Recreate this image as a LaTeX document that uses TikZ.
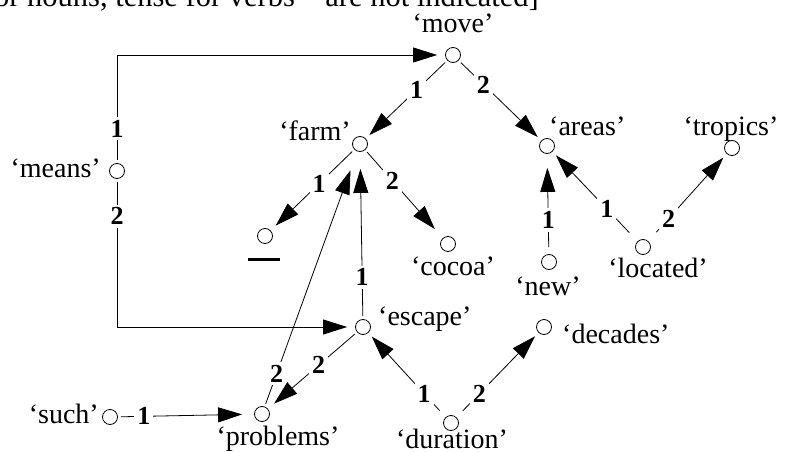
\documentclass[tikz,border=0pt]{standalone}
\usepackage{fontspec}
\setmainfont{Liberation Serif}
\usetikzlibrary{arrows.meta}

\tikzset{
  vertex/.style={circle, draw, inner sep=0pt, minimum size=15pt, line width=0.8pt},
  word/.style={inner sep=0pt, font=\fontsize{28}{30}\selectfont},
  num/.style={fill=white, inner sep=3pt, font=\fontsize{26}{28}\selectfont\bfseries},
  arc/.style={line width=0.8pt, -{Triangle[length=24pt,width=15pt]}, shorten <=3pt, shorten >=5pt},
}

\begin{document}
\begin{tikzpicture}[x=1pt, y=-1pt]
\clip (0,0) rectangle (787,452);
\node[inner sep=0pt, font=\fontsize{30.5}{32}\selectfont, anchor=base east] (note) at (539,7) {for nouns, tense for verbs – are not indicated]};

\node[vertex] (move) at (453,55) {};
\node[vertex] (farm) at (360,144) {};
\node[vertex] (areas) at (547,146) {};
\node[vertex] (tropics) at (732,148) {};
\node[vertex] (means) at (117,171) {};
\node[vertex] (blank) at (265,236) {};
\node[vertex] (cocoa) at (448,244) {};
\node[vertex] (new) at (549,262) {};
\node[vertex] (located) at (643,247) {};
\node[vertex] (escape) at (363,327) {};
\node[vertex] (decades) at (544,327) {};
\node[vertex] (duration) at (451,423) {};
\node[vertex] (problems) at (262,414) {};
\node[vertex] (such) at (110,417) {};

\node[word, anchor=base] (tmove) at (453,33) {‘move’};
\node[word, anchor=base east] (tfarm) at (351,140) {‘farm’};
\node[word, anchor=base west] (tareas) at (549,135) {‘areas’};
\node[word, anchor=base] (ttropics) at (731,135) {‘tropics’};
\node[word, anchor=base east] (tmeans) at (101,177) {‘means’};
\node[inner sep=0pt] (tblank) at (264,259) {\rule{32pt}{3pt}};
\node[word, anchor=base] (tcocoa) at (453,275) {‘cocoa’};
\node[word, anchor=base] (tnew) at (548,295) {‘new’};
\node[word, anchor=base] (tlocated) at (658,277) {‘located’};
\node[word, anchor=base west] (tescape) at (378,325) {‘escape’};
\node[word, anchor=base west] (tdecades) at (562,343) {‘decades’};
\node[word, anchor=base] (tduration) at (452,448) {‘duration’};
\node[word, anchor=base] (tproblems) at (278,445) {‘problems’};
\node[word, anchor=base east] (tsuch) at (99,423) {‘such’};

\draw[arc, shorten >=8pt] (means) |- node[num, pos=0.16] (l1) {1} (move);
\draw[arc, shorten >=8pt] (means) |- node[num, pos=0.126] (l2) {2} (escape);
\draw[arc] (move) -- node[num, pos=0.376] (l3) {1} (farm);
\draw[arc] (move) -- node[num, pos=0.30] (l4) {2} (areas);
\draw[arc, shorten >=7pt] (farm) -- node[num, pos=0.42] (l5) {1} (blank);
\draw[arc, shorten >=12pt] (farm) -- node[num, pos=0.35] (l6) {2} (cocoa);
\draw[arc, shorten >=17pt] (escape) -- node[num, pos=0.25] (l7) {1} (farm);
\draw[arc, shorten >=20pt] (problems) -- node[num, pos=0.13] (l8) {2} (farm);
\draw[arc, shorten >=8pt] (escape) -- node[num, pos=0.43] (l9) {2} (problems);
\draw[arc, shorten >=12pt] (such) -- node[num, pos=0.19] (l10) {1} (problems);
\draw[arc, shorten <=7pt, shorten >=14pt] (new) -- node[num, pos=0.34] (l11) {1} (areas);
\draw[arc, shorten <=12pt] (located) -- node[num, pos=0.36] (l12) {1} (areas);
\draw[arc, shorten <=12pt] (located) -- node[num, pos=0.26] (l13) {2} (tropics);
\draw[arc, shorten <=9pt] (duration) -- node[num, pos=0.28] (l14) {1} (escape);
\draw[arc, shorten <=9pt] (duration) -- node[num, pos=0.28] (l15) {2} (decades);
\end{tikzpicture}
\end{document}
